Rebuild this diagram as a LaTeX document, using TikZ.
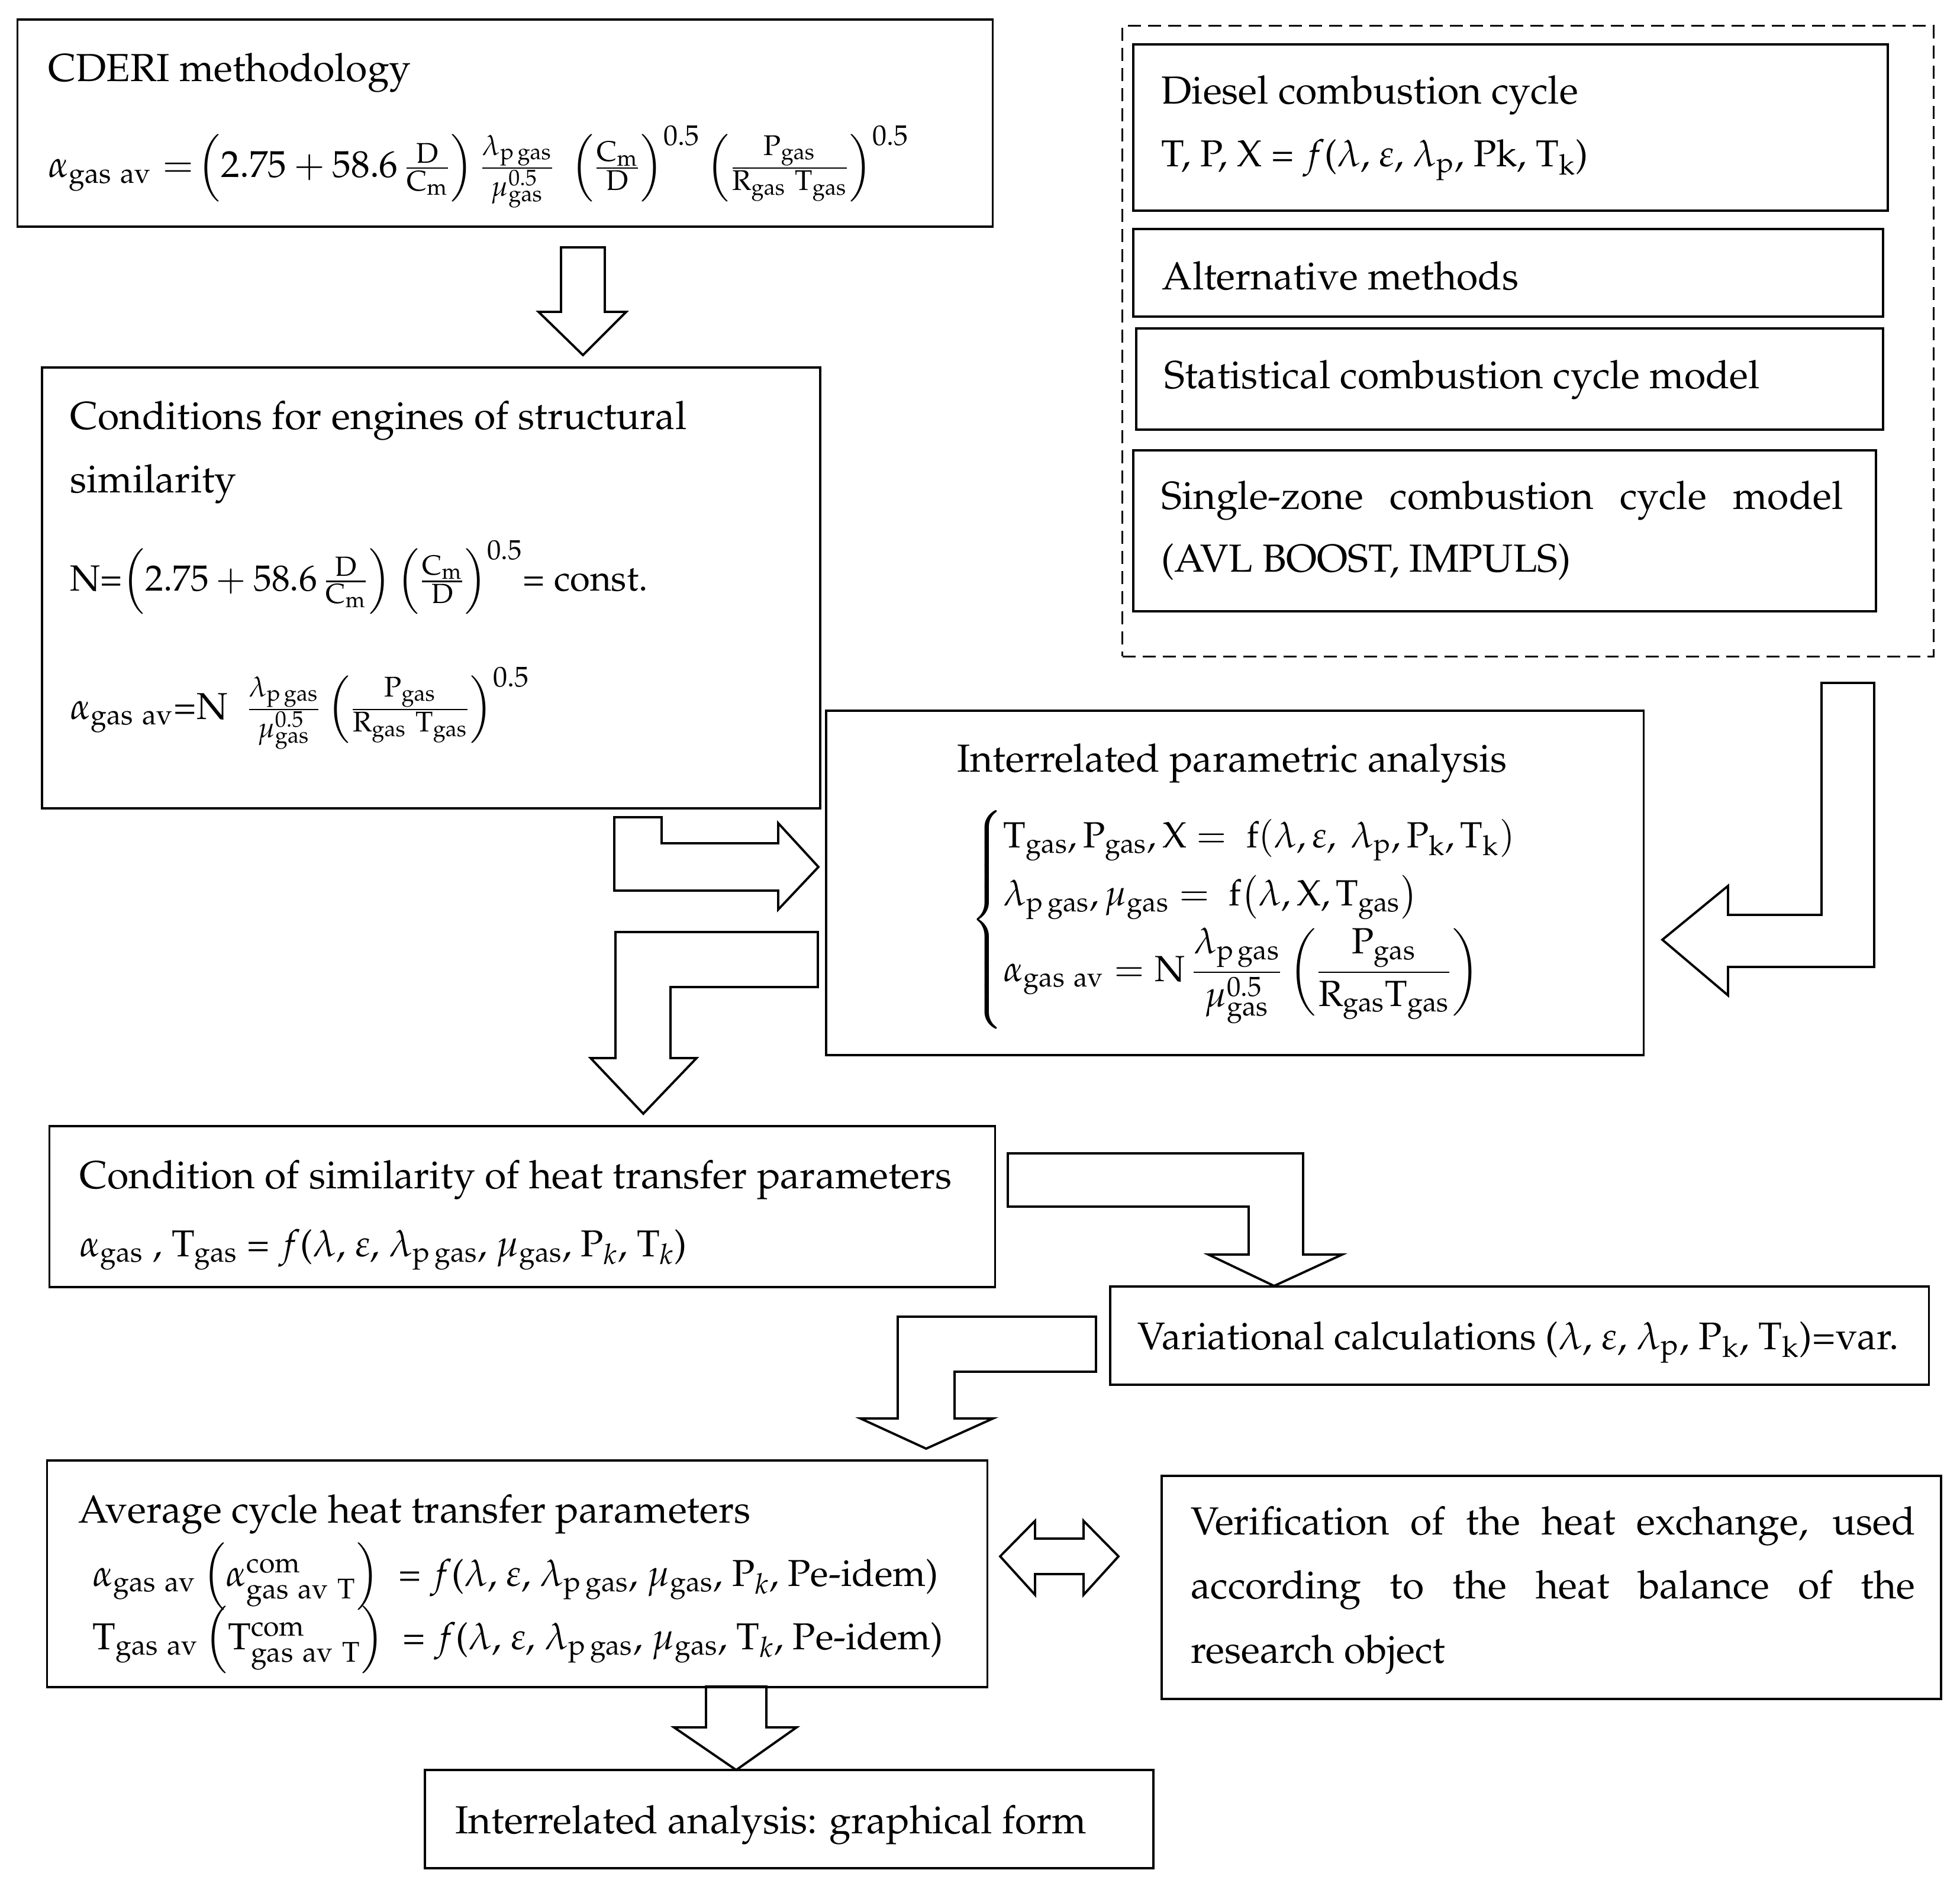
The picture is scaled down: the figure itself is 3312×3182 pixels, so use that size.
\documentclass[tikz,border=0pt]{standalone}
\usepackage[T1]{fontenc}
\usepackage{mathpazo}
\usepackage{amsmath}
\usepackage{tikz}
\pgfdeclarelayer{edgelayer}
\pgfdeclarelayer{nodelayer}
\pgfsetlayers{edgelayer,nodelayer,main}
\tikzstyle{boxnode}=[draw=black, line width=1.1pt, inner sep=0pt]
\tikzstyle{groupnode}=[draw=black, line width=0.8pt, dash pattern=on 0.22cm off 0.12cm, inner sep=0pt]
\tikzstyle{txt}=[inner sep=0pt, anchor=base west, font=\fontsize{18.8}{22}\selectfont]
\tikzstyle{fml}=[inner sep=0pt, anchor=base west, font=\fontsize{18}{22}\selectfont]
\tikzstyle{blockarrow}=[draw=black, line width=1.1pt, fill=white, line join=miter]
\newcommand{\gs}{\mathrm{gas}}
\newcommand{\gav}{\mathrm{gas\ av}}

\begin{document}
\begin{tikzpicture}[x=0.01cm, y=-0.01cm]
	\useasboundingbox (0,0) rectangle (3312,3182);
	\begin{pgfonlayer}{nodelayer}
		\node [style=boxnode, minimum width=16.47cm, minimum height=3.50cm] (cderi) at (853.5, 208) {};
		\node [style=boxnode, minimum width=13.15cm, minimum height=7.45cm] (cond) at (728.5, 993.5) {};
		\node [style=groupnode, minimum width=13.70cm, minimum height=10.65cm] (group) at (2582, 576.5) {};
		\node [style=boxnode, minimum width=12.75cm, minimum height=2.81cm] (diesel) at (2552.5, 215.5) {};
		\node [style=boxnode, minimum width=12.67cm, minimum height=1.48cm] (alt) at (2548.5, 461) {};
		\node [style=boxnode, minimum width=12.62cm, minimum height=1.71cm] (stat) at (2551, 640.5) {};
		\node [style=boxnode, minimum width=12.55cm, minimum height=2.72cm] (single) at (2542.5, 897) {};
		\node [style=boxnode, minimum width=13.81cm, minimum height=5.82cm] (para) at (2086.5, 1492) {};
		\node [style=boxnode, minimum width=15.97cm, minimum height=2.72cm] (sim) at (882.5, 2039) {};
		\node [style=boxnode, minimum width=13.83cm, minimum height=1.66cm] (var) at (2567.5, 2257) {};
		\node [style=boxnode, minimum width=15.88cm, minimum height=3.83cm] (avg) at (874, 2659.5) {};
		\node [style=boxnode, minimum width=13.17cm, minimum height=3.77cm] (verif) at (2621.5, 2682.5) {};
		\node [style=boxnode, minimum width=12.31cm, minimum height=1.66cm] (graph) at (1333.5, 3074) {};

		\node [style=txt] (cderi-t) at (81, 138) {CDERI methodology};
		\node [style=fml] (cderi-f) at (81, 300) {$\alpha_{\gav} =\!\left(2.75 + 58.6\,\frac{\mathrm{D}}{\mathrm{C_m}}\right)\frac{\lambda_{\mathrm{p\,gas}}}{\mu_{\gs}^{0.5}}\;\left(\frac{\mathrm{C_m}}{\mathrm{D}}\right)^{0.5}\left(\frac{\mathrm{P_{gas}}}{\mathrm{R_{gas}\ T_{gas}}}\right)^{0.5}$};
		\node [style=txt] (cond-t1) at (118, 725) {Conditions for engines of structural};
		\node [style=txt] (cond-t2) at (118, 832) {similarity};
		\node [style=fml, font=\fontsize{17.5}{22}\selectfont] (cond-f1) at (118, 998) {N=$\left(2.75 + 58.6\,\frac{\mathrm{D}}{\mathrm{C_m}}\right)\left(\frac{\mathrm{C_m}}{\mathrm{D}}\right)^{0.5}$= const.};
		\node [style=fml] (cond-f2) at (118, 1215) {$\alpha_{\gav}$=N\ \ $\frac{\lambda_{\mathrm{p\,gas}}}{\mu_{\gs}^{0.5}}\left(\frac{\mathrm{P_{gas}}}{\mathrm{R_{gas}\ T_{gas}}}\right)^{0.5}$};
		\node [style=txt] (diesel-t) at (1962, 176) {Diesel combustion cycle};
		\node [style=fml] (diesel-f) at (1962, 282) {T, P, X = $f$($\lambda$, $\varepsilon$, $\lambda_{\mathrm{p}}$, Pk, T$_{\mathrm{k}}$)};
		\node [style=txt] (alt-t) at (1963, 490) {Alternative methods};
		\node [style=txt] (stat-t) at (1967, 656) {Statistical combustion cycle model};
		\node [style=txt, text width=11.51cm, align=justify, font=\fontsize{18.8}{30.4}\selectfont] (single-t) at (1962, 860) {Single-zone combustion cycle model\linebreak (AVL BOOST, IMPULS)};
		\node [style=txt, anchor=base] (para-t) at (2082, 1304) {Interrelated parametric analysis};
		\node [style=fml, anchor=west, font=\fontsize{17.5}{22}\selectfont] (para-f) at (1639, 1554) {$\left\{\begin{array}{@{}l@{}}
			\mathrm{T_{gas}, P_{gas}, X} = \ \mathrm{f}(\lambda, \varepsilon,\ \lambda_{\mathrm{p}}, \mathrm{P_k}, \mathrm{T_k})\\[6pt]
			\lambda_{\mathrm{p\,gas}}, \mu_{\gs} = \ \mathrm{f}\big(\lambda, \mathrm{X}, \mathrm{T_{gas}}\big)\\[4pt]
			\alpha_{\gav} = \mathrm{N}\,\dfrac{\lambda_{\mathrm{p\,gas}}}{\mu_{\gs}^{0.5}}\left(\dfrac{\mathrm{P_{gas}}}{\mathrm{R_{gas}T_{gas}}}\right)
			\end{array}\right.$};
		\node [style=txt] (sim-t) at (134, 2008) {Condition of similarity of heat transfer parameters};
		\node [style=fml] (sim-f) at (134, 2123) {$\alpha_{\gs}$ , T$_{\gs}$ = $f$($\lambda$, $\varepsilon$, $\lambda_{\mathrm{p\,gas}}$, $\mu_{\gs}$, P$_{k}$, T$_{k}$)};
		\node [style=txt, font=\fontsize{18.5}{22}\selectfont] (var-t) at (1922, 2280) {Variational calculations ($\lambda$, $\varepsilon$, $\lambda_{\mathrm{p}}$, P$_{\mathrm{k}}$, T$_{\mathrm{k}}$)=var.};
		\node [style=txt] (avg-t) at (132, 2573) {Average cycle heat transfer parameters};
		\node [style=fml] (avg-f1) at (156, 2680) {$\alpha_{\gav}\left(\alpha^{\mathrm{com}}_{\mathrm{gas\ av\ T}}\right)$ \ = $f$($\lambda$, $\varepsilon$, $\lambda_{\mathrm{p\,gas}}$, $\mu_{\gs}$, P$_{k}$, Pe-idem)};
		\node [style=fml] (avg-f2) at (156, 2787) {$\mathrm{T}_{\gav}\left(\mathrm{T}^{\mathrm{com}}_{\mathrm{gas\ av\ T}}\right)$ \ = $f$($\lambda$, $\varepsilon$, $\lambda_{\mathrm{p\,gas}}$, $\mu_{\gs}$, T$_{k}$, Pe-idem)};
		\node [style=txt, text width=12.23cm, align=justify, font=\fontsize{18.8}{30.9}\selectfont] (verif-t) at (2012, 2593) {Verification of the heat exchange, used\linebreak according to the heat balance of the\linebreak research object};
		\node [style=txt] (graph-t) at (769, 3098) {Interrelated analysis: graphical form};
	\end{pgfonlayer}
	\begin{pgfonlayer}{edgelayer}
		% block arrows
		\draw [style=blockarrow] (948,418) -- (1022,418) -- (1022,527) -- (1058,527) -- (985,600) -- (910,527) -- (948,527) -- cycle;
		\draw [style=blockarrow] (1038,1381) -- (1118,1381) -- (1118,1425) -- (1315,1425) -- (1315,1391) -- (1383,1465) -- (1315,1537) -- (1315,1505) -- (1038,1505) -- cycle;
		\draw [style=blockarrow] (1040,1575) -- (1382,1575) -- (1382,1668) -- (1133,1668) -- (1133,1788) -- (1177,1788) -- (1087,1882) -- (998,1788) -- (1040,1788) -- cycle;
		\draw [style=blockarrow] (3078,1154) -- (3167,1154) -- (3167,1634) -- (2920,1634) -- (2920,1682) -- (2809,1588) -- (2920,1497) -- (2920,1546) -- (3078,1546) -- cycle;
		\draw [style=blockarrow] (1703,1949) -- (2202,1949) -- (2202,2120) -- (2268,2120) -- (2153,2173) -- (2042,2120) -- (2110,2120) -- (2110,2039) -- (1703,2039) -- cycle;
		\draw [style=blockarrow] (1852,2225) -- (1852,2318) -- (1613,2318) -- (1613,2397) -- (1678,2397) -- (1565,2448) -- (1454,2397) -- (1517,2397) -- (1517,2225) -- cycle;
		\draw [style=blockarrow] (1690,2630) -- (1749,2570) -- (1749,2600) -- (1831,2600) -- (1831,2570) -- (1890,2630) -- (1831,2695) -- (1831,2660) -- (1749,2660) -- (1749,2695) -- cycle;
		\draw [style=blockarrow] (1193,2850) -- (1295,2850) -- (1295,2919) -- (1346,2919) -- (1244,2991) -- (1139,2919) -- (1193,2919) -- cycle;
	\end{pgfonlayer}
\end{tikzpicture}
\end{document}
